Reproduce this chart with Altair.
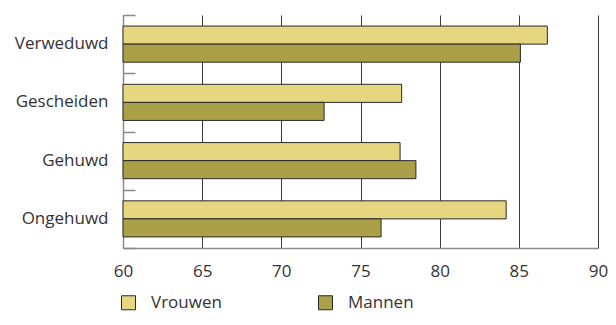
import altair as alt
import pandas as pd

categories = ["Verweduwd", "Gescheiden", "Gehuwd", "Ongehuwd"]
series = ["Vrouwen", "Mannen"]
vrouwen = [86.8, 77.6, 77.5, 84.2]
mannen = [85.1, 72.7, 78.5, 76.3]
x_ticks = [60, 65, 70, 75, 80, 85, 90]
colors = ["#E6D680", "#A9A048"]

rows = []
for c, v, m in zip(categories, vrouwen, mannen):
    rows.append({"cat": c, "serie": "Vrouwen", "val": v})
    rows.append({"cat": c, "serie": "Mannen", "val": m})
df = pd.DataFrame(rows)

FONT = "Open Sans"
TXT = "#333333"

yscale = alt.Scale(domain=categories, paddingInner=0.38, paddingOuter=0.19)
xscale = alt.Scale(domain=[60, 90], zero=False, nice=False)

bars = alt.Chart(df).mark_bar(stroke="#2a2a2a", strokeWidth=1).encode(
    x=alt.X("val:Q", scale=xscale,
            axis=alt.Axis(values=x_ticks, title=None, ticks=False, grid=True,
                          gridColor="#3a3a3a", gridWidth=1,
                          domainColor="#8a8a8a", domainWidth=1.5,
                          labelPadding=15, labelFontSize=17, labelFont=FONT,
                          labelColor=TXT, labelFlush=False)),
    x2=alt.datum(60),
    y=alt.Y("cat:N", scale=yscale, sort=categories,
            axis=alt.Axis(title=None, ticks=False, domainColor="#8a8a8a",
                          domainWidth=1.5, labelPadding=15, labelFontSize=17,
                          labelFont=FONT, labelColor=TXT, orient="left")),
    yOffset=alt.YOffset("serie:N", sort=series),
    color=alt.Color("serie:N", sort=series,
                    scale=alt.Scale(domain=series, range=colors),
                    legend=alt.Legend(title=None, orient="none", direction="horizontal",
                                      legendX=-3, legendY=279, symbolType="square",
                                      symbolSize=196, symbolStrokeColor="#2a2a2a",
                                      symbolStrokeWidth=1, symbolOpacity=1,
                                      labelFontSize=17, labelFont=FONT, labelColor=TXT,
                                      labelOffset=14, columnPadding=94, padding=0)),
)

ticks_layer = alt.Chart(df).mark_tick(opacity=0).encode(
    y=alt.Y("cat:N", sort=categories,
            scale=alt.Scale(domain=categories, paddingInner=0, paddingOuter=0),
            axis=alt.Axis(title=None, labels=False, domain=False, ticks=True,
                          tickBand="extent", tickSize=12, tickColor="#8a8a8a",
                          tickWidth=1.5, offset=-12, orient="left")),
)

chart = alt.layer(bars, ticks_layer).resolve_scale(y="independent").resolve_axis(
    y="independent").properties(
    width=475, height=233,
    autosize=alt.AutoSizeParams(type="none"),
    padding={"left": 115, "top": 7, "right": 10, "bottom": 65},
).configure_view(stroke=None)

chart.save("out.html", embed_options={"renderer": "svg", "actions": False})
